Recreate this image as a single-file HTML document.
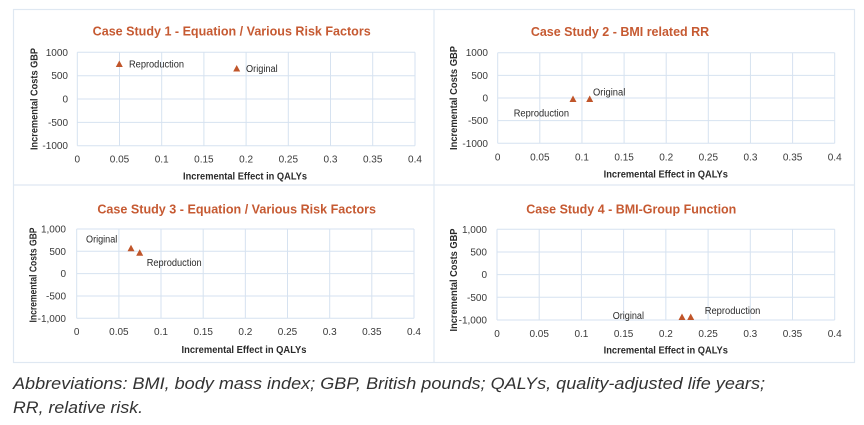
<!DOCTYPE html>
<html><head><meta charset="utf-8"><style>
html,body{margin:0;padding:0;background:#fff;width:864px;height:425px;overflow:hidden}
svg{display:block}
.t{font-family:"Liberation Sans",Arial,sans-serif;font-weight:bold;font-size:12.5px;fill:#C65A32;text-anchor:middle}
.tk{font-family:"Liberation Sans",Arial,sans-serif;font-size:10px;fill:#3a3a3a}
.ax{font-family:"Liberation Sans",Arial,sans-serif;font-size:10px;font-weight:bold;fill:#2a2a2a;text-anchor:middle}
.lb{font-family:"Liberation Sans",Arial,sans-serif;font-size:10px;fill:#2a2a2a}
.g{stroke:#D6E2F0;stroke-width:1;fill:none}
.m{fill:#C0552A}
.cap{font-family:"Liberation Sans",sans-serif;font-style:italic;font-size:17px;fill:#333}
</style></head><body>
<svg width="864" height="425" viewBox="0 0 864 425" xmlns="http://www.w3.org/2000/svg">
<!-- panel borders -->
<rect x="13.5" y="9.5" width="841" height="353" fill="none" stroke="#DFE8F2" stroke-width="1.2"/>
<line x1="434" y1="9.5" x2="434" y2="362.5" stroke="#DFE8F2" stroke-width="1.2"/>
<line x1="13.5" y1="185" x2="854.5" y2="185" stroke="#DFE8F2" stroke-width="1.2"/>

<!-- ================= Panel 1 ================= -->
<text class="t" x="231.7" y="35.7" textLength="278" lengthAdjust="spacingAndGlyphs">Case Study 1 - Equation / Various Risk Factors</text>
<g class="g">
<line x1="77.3" y1="52.3" x2="415" y2="52.3"/><line x1="77.3" y1="75.7" x2="415" y2="75.7"/><line x1="77.3" y1="99" x2="415" y2="99"/><line x1="77.3" y1="122.4" x2="415" y2="122.4"/><line x1="77.3" y1="145.7" x2="415" y2="145.7"/>
<line x1="77.3" y1="52.3" x2="77.3" y2="145.7"/><line x1="119.5" y1="52.3" x2="119.5" y2="145.7"/><line x1="161.7" y1="52.3" x2="161.7" y2="145.7"/><line x1="203.9" y1="52.3" x2="203.9" y2="145.7"/><line x1="246.1" y1="52.3" x2="246.1" y2="145.7"/><line x1="288.3" y1="52.3" x2="288.3" y2="145.7"/><line x1="330.5" y1="52.3" x2="330.5" y2="145.7"/><line x1="372.7" y1="52.3" x2="372.7" y2="145.7"/><line x1="415" y1="52.3" x2="415" y2="145.7"/>
</g>
<g class="tk" text-anchor="end">
<text x="68" y="55.8">1000</text><text x="68" y="79.2">500</text><text x="68" y="102.5">0</text><text x="68" y="125.9">-500</text><text x="68" y="149.2">-1000</text>
</g>
<g class="tk" text-anchor="middle">
<text x="77.3" y="162.5">0</text><text x="119.5" y="162.5">0.05</text><text x="161.7" y="162.5">0.1</text><text x="203.9" y="162.5">0.15</text><text x="246.1" y="162.5">0.2</text><text x="288.3" y="162.5">0.25</text><text x="330.5" y="162.5">0.3</text><text x="372.7" y="162.5">0.35</text><text x="415" y="162.5">0.4</text>
</g>
<text class="ax" x="245" y="179.5" textLength="124" lengthAdjust="spacingAndGlyphs">Incremental Effect in QALYs</text>
<text class="ax" transform="translate(37.5,99) rotate(-90)" x="0" y="0" textLength="102" lengthAdjust="spacingAndGlyphs">Incremental Costs GBP</text>
<polygon class="m" points="115.8,67 122.8,67 119.3,60.5"/>
<polygon class="m" points="233.2,71.5 240.2,71.5 236.7,65"/>
<text class="lb" x="129" y="67.5" textLength="55" lengthAdjust="spacingAndGlyphs">Reproduction</text>
<text class="lb" x="246" y="71.8" textLength="31.7" lengthAdjust="spacingAndGlyphs">Original</text>

<!-- ================= Panel 2 ================= -->
<text class="t" x="620" y="36" textLength="178.3" lengthAdjust="spacingAndGlyphs">Case Study 2 - BMI related RR</text>
<g class="g">
<line x1="497.7" y1="52.7" x2="834.7" y2="52.7"/><line x1="497.7" y1="75.35" x2="834.7" y2="75.35"/><line x1="497.7" y1="98" x2="834.7" y2="98"/><line x1="497.7" y1="120.65" x2="834.7" y2="120.65"/><line x1="497.7" y1="143.3" x2="834.7" y2="143.3"/>
<line x1="497.7" y1="52.7" x2="497.7" y2="143.3"/><line x1="539.8" y1="52.7" x2="539.8" y2="143.3"/><line x1="581.95" y1="52.7" x2="581.95" y2="143.3"/><line x1="624.1" y1="52.7" x2="624.1" y2="143.3"/><line x1="666.2" y1="52.7" x2="666.2" y2="143.3"/><line x1="708.3" y1="52.7" x2="708.3" y2="143.3"/><line x1="750.45" y1="52.7" x2="750.45" y2="143.3"/><line x1="792.6" y1="52.7" x2="792.6" y2="143.3"/><line x1="834.7" y1="52.7" x2="834.7" y2="143.3"/>
</g>
<g class="tk" text-anchor="end">
<text x="488" y="56.2">1000</text><text x="488" y="78.85">500</text><text x="488" y="101.5">0</text><text x="488" y="124.15">-500</text><text x="488" y="146.8">-1000</text>
</g>
<g class="tk" text-anchor="middle">
<text x="497.7" y="160.5">0</text><text x="539.8" y="160.5">0.05</text><text x="581.95" y="160.5">0.1</text><text x="624.1" y="160.5">0.15</text><text x="666.2" y="160.5">0.2</text><text x="708.3" y="160.5">0.25</text><text x="750.45" y="160.5">0.3</text><text x="792.6" y="160.5">0.35</text><text x="834.7" y="160.5">0.4</text>
</g>
<text class="ax" x="665.8" y="177.5" textLength="124.3" lengthAdjust="spacingAndGlyphs">Incremental Effect in QALYs</text>
<text class="ax" transform="translate(457.2,98) rotate(-90)" x="0" y="0" textLength="104" lengthAdjust="spacingAndGlyphs">Incremental Costs GBP</text>
<polygon class="m" points="569.5,102 576.5,102 573,95.5"/>
<polygon class="m" points="586.2,102 593.2,102 589.7,95.5"/>
<text class="lb" x="593" y="95.5" textLength="32.3" lengthAdjust="spacingAndGlyphs">Original</text>
<text class="lb" x="513.7" y="116.5" textLength="55.3" lengthAdjust="spacingAndGlyphs">Reproduction</text>

<!-- ================= Panel 3 ================= -->
<text class="t" x="236.7" y="213.5" textLength="278.7" lengthAdjust="spacingAndGlyphs">Case Study 3 - Equation / Various Risk Factors</text>
<g class="g">
<line x1="76.7" y1="229" x2="414" y2="229"/><line x1="76.7" y1="251.3" x2="414" y2="251.3"/><line x1="76.7" y1="273.65" x2="414" y2="273.65"/><line x1="76.7" y1="296" x2="414" y2="296"/><line x1="76.7" y1="318.3" x2="414" y2="318.3"/>
<line x1="76.7" y1="229" x2="76.7" y2="318.3"/><line x1="118.9" y1="229" x2="118.9" y2="318.3"/><line x1="161" y1="229" x2="161" y2="318.3"/><line x1="203.2" y1="229" x2="203.2" y2="318.3"/><line x1="245.35" y1="229" x2="245.35" y2="318.3"/><line x1="287.5" y1="229" x2="287.5" y2="318.3"/><line x1="329.7" y1="229" x2="329.7" y2="318.3"/><line x1="371.8" y1="229" x2="371.8" y2="318.3"/><line x1="414" y1="229" x2="414" y2="318.3"/>
</g>
<g class="tk" text-anchor="end">
<text x="66" y="232.5">1,000</text><text x="66" y="254.8">500</text><text x="66" y="277.15">0</text><text x="66" y="299.5">-500</text><text x="66" y="321.8">-1,000</text>
</g>
<g class="tk" text-anchor="middle">
<text x="76.7" y="335">0</text><text x="118.9" y="335">0.05</text><text x="161" y="335">0.1</text><text x="203.2" y="335">0.15</text><text x="245.35" y="335">0.2</text><text x="287.5" y="335">0.25</text><text x="329.7" y="335">0.3</text><text x="371.8" y="335">0.35</text><text x="414" y="335">0.4</text>
</g>
<text class="ax" x="244" y="352.8" textLength="125" lengthAdjust="spacingAndGlyphs">Incremental Effect in QALYs</text>
<text class="ax" transform="translate(36.5,275) rotate(-90)" x="0" y="0" textLength="95" lengthAdjust="spacingAndGlyphs">Incremental Costs GBP</text>
<polygon class="m" points="127.5,251.3 134.5,251.3 131,244.8"/>
<polygon class="m" points="136.2,255.7 143.2,255.7 139.7,249.2"/>
<text class="lb" x="86" y="242.5" textLength="31.3" lengthAdjust="spacingAndGlyphs">Original</text>
<text class="lb" x="146.7" y="266" textLength="55" lengthAdjust="spacingAndGlyphs">Reproduction</text>

<!-- ================= Panel 4 ================= -->
<text class="t" x="631.3" y="213.3" textLength="210" lengthAdjust="spacingAndGlyphs">Case Study 4 - BMI-Group Function</text>
<g class="g">
<line x1="497" y1="229.3" x2="834.7" y2="229.3"/><line x1="497" y1="252" x2="834.7" y2="252"/><line x1="497" y1="274.65" x2="834.7" y2="274.65"/><line x1="497" y1="297.3" x2="834.7" y2="297.3"/><line x1="497" y1="320" x2="834.7" y2="320"/>
<line x1="497" y1="229.3" x2="497" y2="320"/><line x1="539.2" y1="229.3" x2="539.2" y2="320"/><line x1="581.4" y1="229.3" x2="581.4" y2="320"/><line x1="623.6" y1="229.3" x2="623.6" y2="320"/><line x1="665.85" y1="229.3" x2="665.85" y2="320"/><line x1="708.1" y1="229.3" x2="708.1" y2="320"/><line x1="750.3" y1="229.3" x2="750.3" y2="320"/><line x1="792.5" y1="229.3" x2="792.5" y2="320"/><line x1="834.7" y1="229.3" x2="834.7" y2="320"/>
</g>
<g class="tk" text-anchor="end">
<text x="487" y="232.8">1,000</text><text x="487" y="255.5">500</text><text x="487" y="278.15">0</text><text x="487" y="300.8">-500</text><text x="487" y="323.5">-1,000</text>
</g>
<g class="tk" text-anchor="middle">
<text x="497" y="336.8">0</text><text x="539.2" y="336.8">0.05</text><text x="581.4" y="336.8">0.1</text><text x="623.6" y="336.8">0.15</text><text x="665.85" y="336.8">0.2</text><text x="708.1" y="336.8">0.25</text><text x="750.3" y="336.8">0.3</text><text x="792.5" y="336.8">0.35</text><text x="834.7" y="336.8">0.4</text>
</g>
<text class="ax" x="665.8" y="353.5" textLength="124.3" lengthAdjust="spacingAndGlyphs">Incremental Effect in QALYs</text>
<text class="ax" transform="translate(456.8,280) rotate(-90)" x="0" y="0" textLength="103" lengthAdjust="spacingAndGlyphs">Incremental Costs GBP</text>
<polygon class="m" points="678.5,320 685.5,320 682,313.5"/>
<polygon class="m" points="687.2,320 694.2,320 690.7,313.5"/>
<text class="lb" x="612.7" y="319.2" textLength="31.3" lengthAdjust="spacingAndGlyphs">Original</text>
<text class="lb" x="704.7" y="313.8" textLength="55.7" lengthAdjust="spacingAndGlyphs">Reproduction</text>

<!-- caption -->
<text class="cap" x="13" y="389" textLength="752" lengthAdjust="spacingAndGlyphs">Abbreviations: BMI, body mass index; GBP, British pounds; QALYs, quality-adjusted life years;</text>
<text class="cap" x="13" y="413" textLength="130" lengthAdjust="spacingAndGlyphs">RR, relative risk.</text>
</svg>
</body></html>
